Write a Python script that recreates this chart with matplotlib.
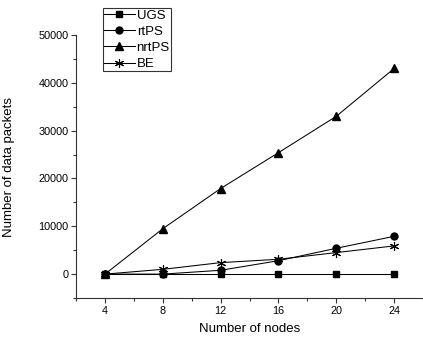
import matplotlib
matplotlib.use("Agg")
import matplotlib.pyplot as plt
from matplotlib.ticker import MultipleLocator

plt.rcParams['font.family'] = ['Liberation Sans', 'DejaVu Sans']

nodes = [4, 8, 12, 16, 20, 24]
ugs = [0, 0, 0, 0, 0, 0]
rtps = [0, 0, 800, 2800, 5400, 7900]
nrtps = [0, 9500, 17900, 25400, 33000, 43000]
be = [0, 1000, 2400, 3100, 4500, 5900]

fig = plt.figure(figsize=(4.23, 3.40), dpi=100)
ax = fig.add_axes([0.18, 0.1235, 0.82, 0.7735])

lw = 0.75
ax.plot(nodes, ugs, color='black', lw=lw, marker='s', ms=4.5, label='UGS')
ax.plot(nodes, rtps, color='black', lw=lw, marker='o', ms=5, label='rtPS')
ax.plot(nodes, nrtps, color='black', lw=lw, marker='^', ms=5.5, label='nrtPS')
ax.plot(nodes, be, color='black', lw=lw, marker=(6, 2, 0), ms=6.5, mew=0.8, label='BE')

ax.set_xlim(2, 26)
ax.set_ylim(-5000, 50000)
ax.xaxis.set_major_locator(MultipleLocator(4))
ax.xaxis.set_minor_locator(MultipleLocator(2))
ax.yaxis.set_major_locator(MultipleLocator(10000))
ax.yaxis.set_minor_locator(MultipleLocator(5000))
ax.set_xticks(nodes)
ax.tick_params(which='both', direction='out', labelsize=7.8, width=0.8, color='#333333')
ax.tick_params(which='major', length=3.6, pad=2)
ax.tick_params(which='minor', length=2.2)
for s in ('top', 'right'):
    ax.spines[s].set_visible(False)
for s in ('left', 'bottom'):
    ax.spines[s].set_linewidth(0.8)
    ax.spines[s].set_color('#333333')

ax.set_xlabel('Number of nodes', fontsize=9.5, labelpad=5)
ax.set_ylabel('Number of data packets', fontsize=9.5)
ax.yaxis.set_label_coords(-0.176, 0.5)

leg = fig.legend(loc='upper left', bbox_to_anchor=(103 / 423, 1 - 8 / 340), fontsize=9.5,
                 frameon=True, fancybox=False, edgecolor='black',
                 handlelength=2.3, handletextpad=0.15, borderpad=0.1,
                 labelspacing=0.3, borderaxespad=0)
leg.get_frame().set_linewidth(0.8)

fig.savefig('out.png', dpi=100)
